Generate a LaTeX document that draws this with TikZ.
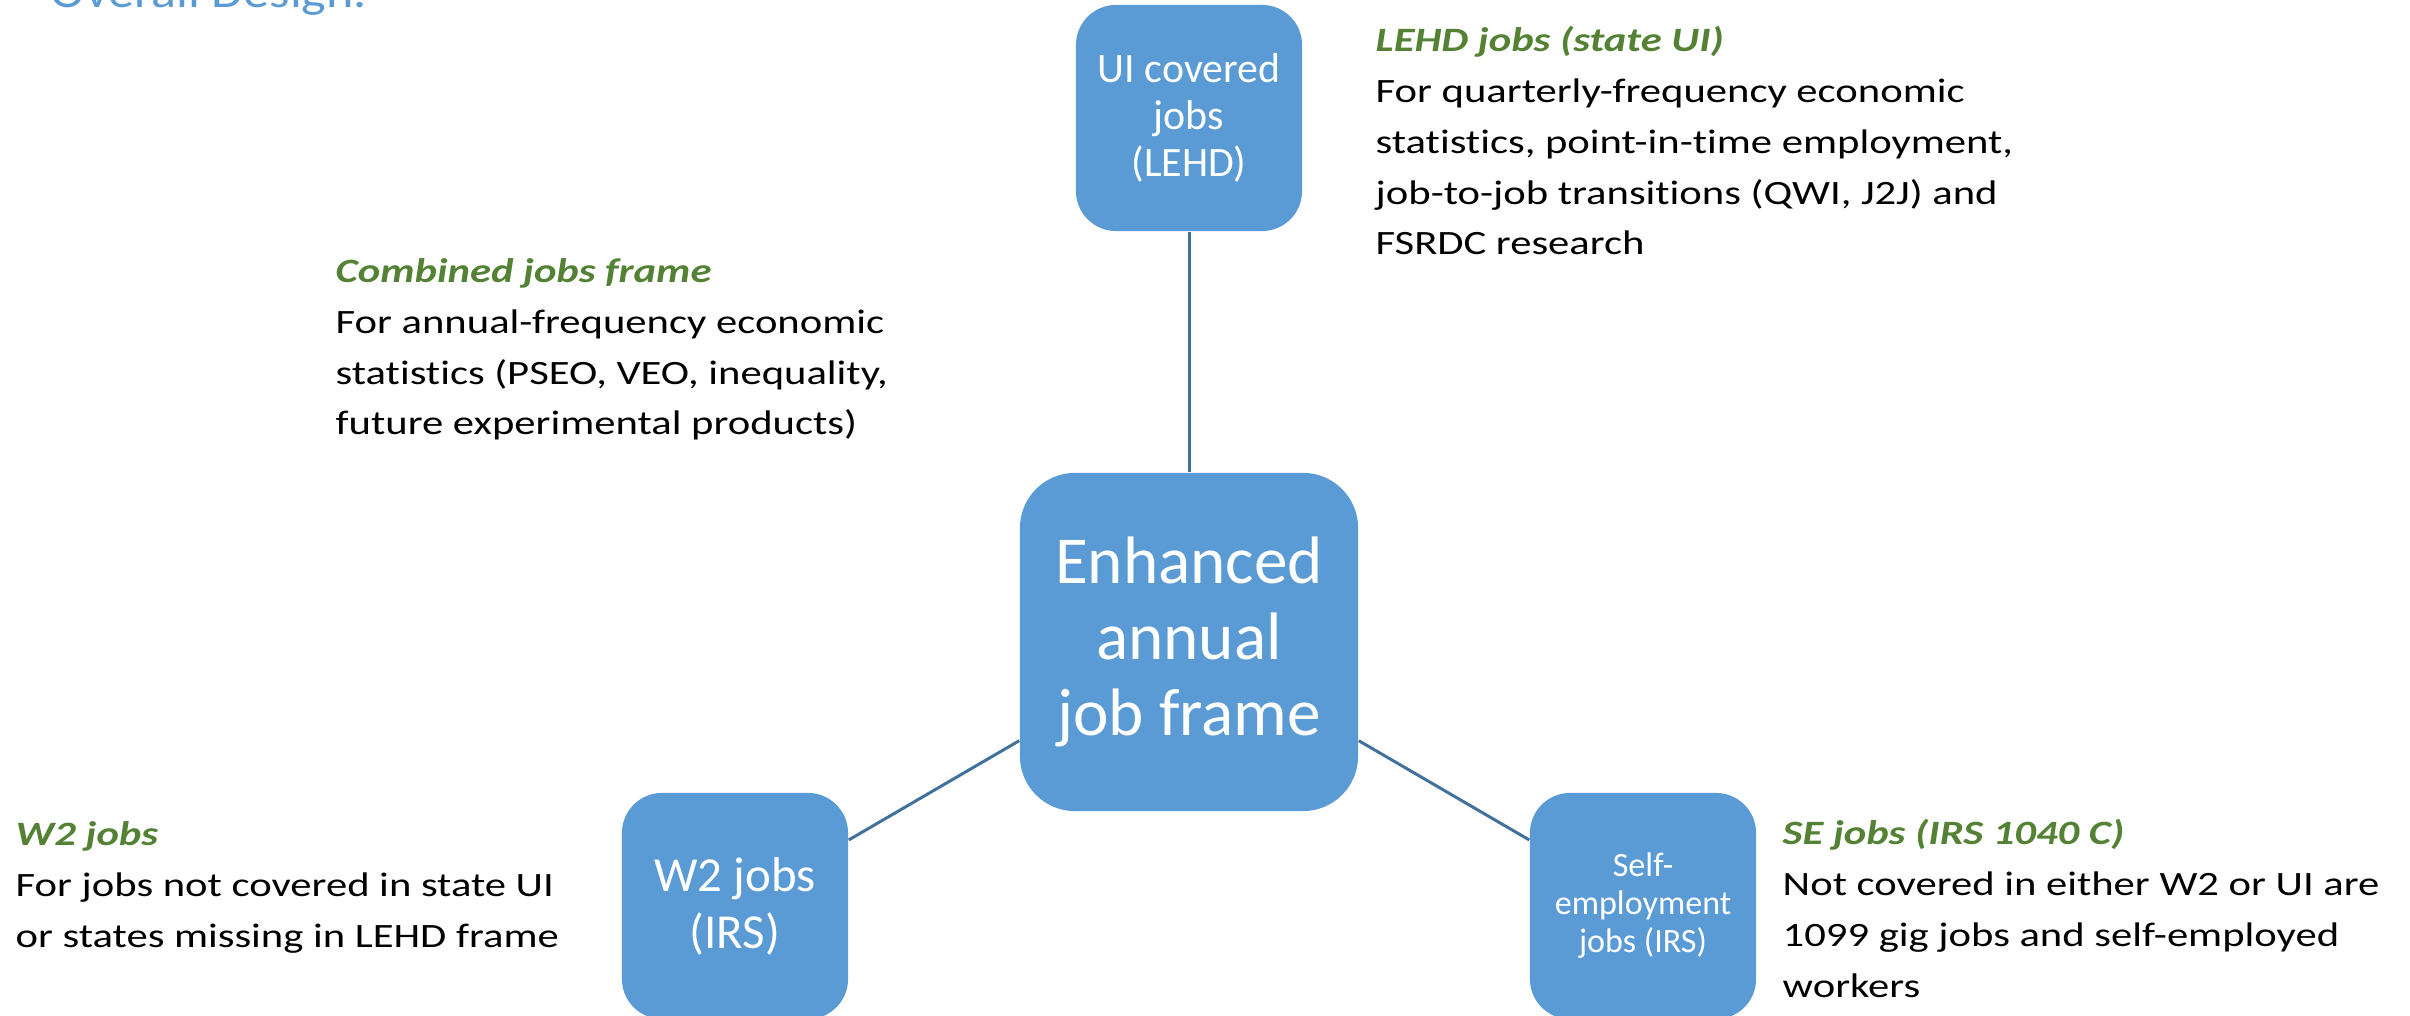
\documentclass[tikz,border=0pt]{standalone}
\usepackage{fontspec}
\setmainfont{Carlito}[Ligatures=NoCommon]
\newfontfamily\notefont{Carlito}[FakeStretch=1.25, Ligatures=NoCommon]
\newfontfamily\headfont{Carlito}[FakeStretch=1.13]

\definecolor{boxblue}{HTML}{5B9BD5}
\definecolor{linkblue}{HTML}{41719C}
\definecolor{headgreen}{HTML}{548235}

\tikzset{
    jobbox/.style={rectangle, rounded corners=0.4cm, fill=boxblue, text=white,
        align=center, inner sep=0pt, minimum width=2.26cm, minimum height=2.26cm},
    link/.style={draw=linkblue, line width=0.85pt},
    note/.style={anchor=base west, align=left, inner sep=0pt,
        font=\notefont\fontsize{9.7}{14.5}\selectfont},
}
\newcommand{\notehead}[1]{\textcolor{headgreen}{\bfseries\itshape #1}}

\begin{document}
\begin{tikzpicture}[x=0.01cm, y=-0.01cm]
        \def\pagew{2410}
        \def\pageh{1016}
        \useasboundingbox (0,0) rectangle (\pagew,\pageh);

        % HEADING (cut by the page edge)
        \node[anchor=base west, inner sep=0pt, text=boxblue,
            font=\headfont\fontsize{13.1}{15}\selectfont] (title) at (50,8) {Overall Design.};

        % BOXES
        \node[jobbox, minimum width=3.38cm, minimum height=3.38cm, rounded corners=0.55cm,
            font=\fontsize{19.1}{21.5}\selectfont] (core) at (1189,642) {Enhanced\\annual\\job frame};
        \node[jobbox, font=\fontsize{11.9}{13.4}\selectfont] (ui) at (1189,118) {UI covered\\jobs\\(LEHD)};
        \node[jobbox, font=\fontsize{13.9}{16.2}\selectfont] (w2) at (735,906) {W2 jobs\\(IRS)};
        \node[jobbox, font=\fontsize{9.7}{10.8}\selectfont] (se) at (1643,906) {Self-\\employment\\jobs (IRS)};

        \foreach \leaf in {ui, w2, se} {
            \draw[link] (core) -- (\leaf);
        }

        % NOTES (anchored at the last baseline)
        \node[note] (uinote) at (1375,255) {\notehead{LEHD jobs (state UI)}\\
            For quarterly-frequency economic\\
            statistics, point-in-time employment,\\
            job-to-job transitions (QWI, J2J) and\\
            FSRDC research};
        \node[note] (corenote) at (335,435) {\notehead{Combined jobs frame}\\
            For annual-frequency economic\\
            statistics (PSEO, VEO, inequality,\\
            future experimental products)};
        \node[note] (w2note) at (15,947) {\notehead{W2 jobs}\\
            For jobs not covered in state UI\\
            or states missing in LEHD frame};
        \node[note] (senote) at (1782,997) {\notehead{SE jobs (IRS 1040 C)}\\
            Not covered in either W2 or UI are\\
            1099 gig jobs and self-employed\\
            workers};
\end{tikzpicture}
\end{document}
